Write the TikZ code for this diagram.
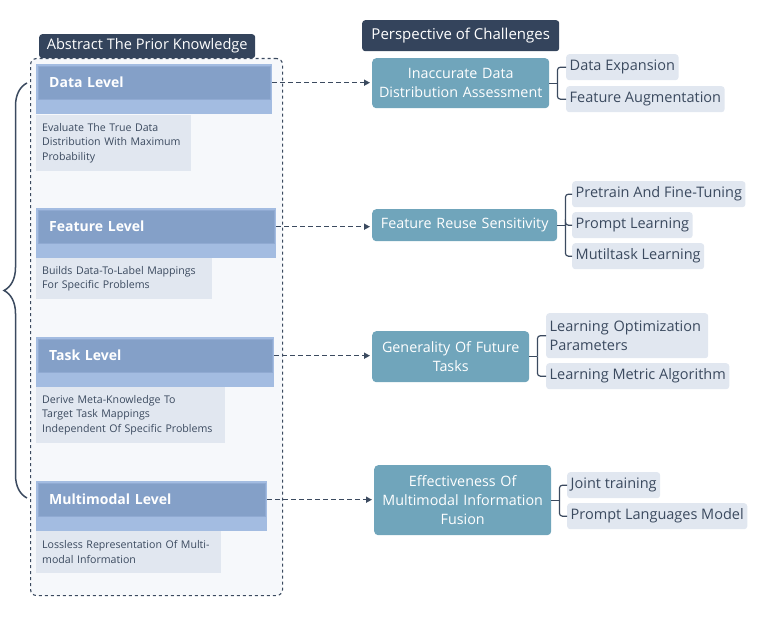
\documentclass[tikz,border=0pt]{standalone}
\usepackage{fontspec}
\setmainfont{Open Sans}
\usetikzlibrary{arrows.meta,decorations.pathreplacing}

\definecolor{navy}{HTML}{34445C}
\definecolor{ink}{HTML}{3B4A5F}
\definecolor{barlight}{HTML}{A3BCE1}
\definecolor{bardark}{HTML}{84A0C8}
\definecolor{barline}{HTML}{90AAD2}
\definecolor{descgray}{HTML}{E1E7F0}
\definecolor{panel}{HTML}{F6F8FB}
\definecolor{tealbox}{HTML}{70A5BB}

\begin{document}
\begin{tikzpicture}[x=1pt, y=-1pt,
    tab/.style={fill=navy, text=white, rounded corners=3pt, inner sep=0pt, anchor=north west},
    levelbar/.style={fill=barlight, inner sep=0pt, anchor=north west, minimum height=50pt},
    levelhead/.style={fill=bardark, draw=barline, inner xsep=11pt, inner ysep=0pt, anchor=north west,
      minimum height=33pt, text=white, align=left, font=\bfseries\fontsize{14}{16}\selectfont},
    leveldesc/.style={fill=descgray, inner xsep=6pt, inner ysep=0pt, anchor=north west, text=ink,
      align=left, font=\fontsize{10.6}{14.5}\selectfont},
    challenge/.style={fill=tealbox, rounded corners=4pt, text=white, inner sep=0pt, anchor=north west,
      align=center, font=\fontsize{14.3}{19}\selectfont},
    leaf/.style={fill=descgray, rounded corners=3pt, text=ink, inner xsep=3.5pt, inner ysep=0pt,
      anchor=north west, align=left, minimum height=26pt, font=\fontsize{14.5}{19.5}\selectfont},
    link/.style={draw=ink, line width=1.5pt, dash pattern=on 5pt off 3pt, shorten >=2pt,
      -{Triangle[length=6pt,width=6pt]}},
    branch/.style={draw=ink, line width=1.2pt, rounded corners=3pt}]

  \useasboundingbox (0,0) rectangle (764,620);

  % Prior knowledge panel
  \node[draw=ink, dashed, line width=1.1pt, fill=panel, rounded corners=6pt, inner sep=0pt,
    anchor=north west, minimum width=252pt, minimum height=537pt] (prior) at (30,58) {};
  \node[tab, minimum width=216pt, minimum height=24pt, font=\fontsize{14.6}{16}\selectfont]
    (prior-tab) at (39,34) {Abstract The Prior Knowledge};

  % Levels
  \node[levelbar, minimum width=236pt] (data-bar) at (36,64) {};
  \node[levelhead, text width=210pt] (data) at (38,66) {Data Level};
  \node[leveldesc, text width=143pt, minimum height=56pt] (data-desc) at (36,115)
    {Evaluate The True Data\\Distribution With Maximum\\Probability};

  \node[levelbar, minimum width=240pt] (feature-bar) at (36,208) {};
  \node[levelhead, text width=214pt] (feature) at (38,210) {Feature Level};
  \node[leveldesc, text width=164pt, minimum height=41pt] (feature-desc) at (36,258)
    {Builds Data-To-Label Mappings\\For Specific Problems};

  \node[levelbar, minimum width=238pt] (task-bar) at (36,337) {};
  \node[levelhead, text width=212pt] (task) at (38,339) {Task Level};
  \node[leveldesc, text width=177pt, minimum height=56pt] (task-desc) at (36,387)
    {Derive Meta-Knowledge To\\Target Task Mappings\\Independent Of Specific Problems};

  \node[levelbar, minimum width=231pt] (multi-bar) at (36,481) {};
  \node[levelhead, text width=205pt] (multi) at (38,483) {Multimodal Level};
  \node[leveldesc, text width=173pt, minimum height=42pt] (multi-desc) at (36,531)
    {Lossless Representation Of Multi-\\modal Information};

  % Brace
  \coordinate (brace-top) at (27,83);
  \coordinate (brace-bot) at (27,498);
  \draw[ink, line width=1.5pt, decorate, decoration={brace, amplitude=23pt}] (brace-bot) -- (brace-top);

  % Challenges
  \node[tab, minimum width=197pt, minimum height=31pt, font=\fontsize{15}{17}\selectfont]
    (chal-tab) at (362,20) {Perspective of Challenges};
  \node[challenge, text width=177pt, minimum height=50pt] (c-data) at (372,58)
    {Inaccurate Data\\Distribution Assessment};
  \node[challenge, text width=185pt, minimum height=32pt] (c-feature) at (372,209)
    {Feature Reuse Sensitivity};
  \node[challenge, text width=157pt, minimum height=51pt] (c-task) at (372,331)
    {Generality Of Future\\Tasks};
  \node[challenge, text width=177pt, minimum height=70pt] (c-multi) at (374,465)
    {Effectiveness Of\\Multimodal Information\\Fusion};

  % Leaves
  \node[leaf] (l-dexp) at (566,54) {Data Expansion};
  \node[leaf] (l-faug) at (566,86) {Feature Augmentation};
  \node[leaf] (l-pre) at (572,181) {Pretrain And Fine-Tuning};
  \node[leaf] (l-prompt) at (572,212) {Prompt Learning};
  \node[leaf] (l-mtl) at (572,243) {Mutiltask Learning};
  \node[leaf, text width=155pt, minimum height=45pt] (l-lop) at (546,313)
    {Learning Optimization\\Parameters};
  \node[leaf] (l-lma) at (546,363) {Learning Metric Algorithm};
  \node[leaf] (l-joint) at (567,472) {Joint training};
  \node[leaf] (l-plm) at (567,503) {Prompt Languages Model};

  % Dashed links
  \foreach \lvl/\ch in {data/c-data, feature/c-feature, task/c-task, multi/c-multi}
    \draw[link] (\lvl-bar.east |- \lvl.east) -- (\lvl.east -| \ch.west);

  % Branches
  \foreach \ch/\leaves in {c-data/{l-dexp,l-faug}, c-feature/{l-pre,l-prompt,l-mtl},
      c-task/{l-lop,l-lma}, c-multi/{l-joint,l-plm}} {
    \draw[branch] (\ch.east) -- ++(8,0) coordinate (\ch-j);
    \foreach \lf in \leaves
      \draw[branch] (\ch-j) |- (\lf.west);
  }

\end{tikzpicture}
\end{document}
